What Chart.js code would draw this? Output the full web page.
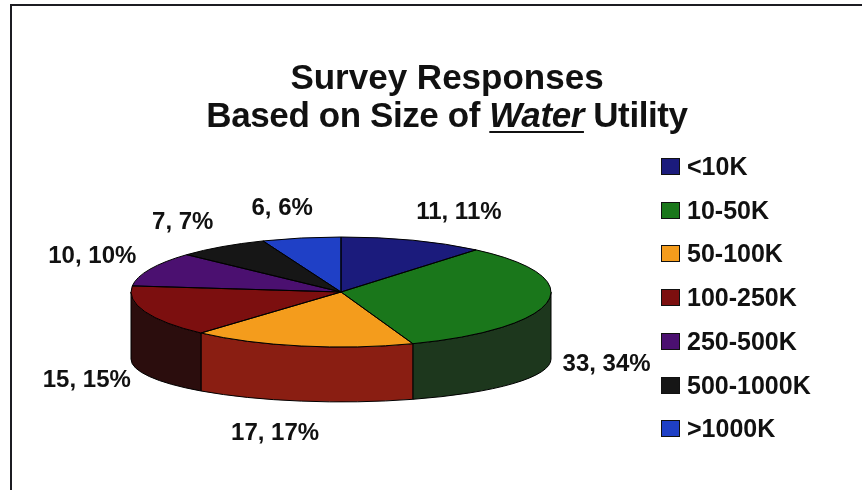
<!DOCTYPE html>
<html>
<head>
<meta charset="utf-8">
<script src="https://cdn.jsdelivr.net/npm/chart.js@4.4.0/dist/chart.umd.min.js"></script>
<style>
  html, body { margin: 0; padding: 0; background: #fff; overflow: hidden; }
  #wrap { position: relative; width: 862px; height: 490px; }
  #frame { position: absolute; left: 10px; top: 4px; right: -10px; bottom: -10px;
           border-left: 2px solid #1c1c22; border-top: 2px solid #1c1c22; }
  #chart { position: absolute; left: 0; top: 0; }
  #title { position: absolute; left: 147px; top: 58px; width: 600px; text-align: center;
           font: bold 35px "Liberation Sans", Arial, sans-serif; line-height: 38px;
           color: #111; white-space: nowrap; }
  #title .l2 { letter-spacing: -0.4px; }
  #title u { text-decoration-thickness: 2px; text-underline-offset: 4px; }
  #legend { position: absolute; left: 661px; top: 144.6px;
            font: bold 25px "Liberation Sans", Arial, sans-serif; color: #111; }
  .item { display: flex; align-items: center; height: 43.75px; white-space: nowrap; }
  .box { width: 19px; height: 17px; box-sizing: border-box; border: 1px solid #111; margin-right: 7px; }
</style>
</head>
<body>
<div id="wrap">
  <canvas id="chart" width="862" height="490"></canvas>
  <div id="frame"></div>
  <div id="title"><div>Survey Responses</div><div class="l2">Based on Size of <u><i>Water</i></u> Utility</div></div>
  <div id="legend"></div>
</div>
<script>
// 数据
const categories = ['<10K', '10-50K', '50-100K', '100-250K', '250-500K', '500-1000K', '>1000K'];
const responses = [11, 33, 17, 15, 10, 7, 6];
const percents = [11, 34, 17, 15, 10, 7, 6];

// 颜色：顶面 / 侧面
const topColors = ['#1b1b7c', '#1a771b', '#f49c1c', '#7c0f0f', '#4b1070', '#161616', '#1f40c6'];
const sideColors = ['#10104a', '#1d371d', '#8a1e12', '#2b0d0d', '#2a0a40', '#0a0a0a', '#12267a'];

// 3D 饼图参数
const DEPTH = 67;           // 侧面厚度
const BOTTOM_SQUASH = 0.78; // 底面椭圆相对顶面的扁率
const LABEL_GAP_X = 15;
const LABEL_GAP_Y = 30;
const FRONT_DROP = 58;

// 图例
const legendEl = document.getElementById('legend');
categories.forEach((c, i) => {
  const row = document.createElement('div');
  row.className = 'item';
  const box = document.createElement('span');
  box.className = 'box';
  box.style.background = topColors[i];
  row.appendChild(box);
  row.appendChild(document.createTextNode(c));
  legendEl.appendChild(row);
});

function ellipseOf(chart) {
  const arcs = chart.getDatasetMeta(0).data;
  const area = chart.chartArea;
  const sx = area.width / area.height;
  const r = arcs[0].outerRadius;
  return { arcs, sx, cx: arcs[0].x, cy: arcs[0].y, rx: r * sx, ry: r };
}

const pie3d = {
  id: 'pie3d',
  beforeDatasetsDraw(chart) {
    const ctx = chart.ctx;
    const { arcs, sx, cx, cy, rx, ry } = ellipseOf(chart);
    // 侧面（只画前半部分）
    arcs.forEach((arc, i) => {
      const s = Math.max(arc.startAngle, 0);
      const e = Math.min(arc.endAngle, Math.PI);
      if (s >= e) return;
      ctx.beginPath();
      ctx.ellipse(cx, cy, rx, ry, 0, s, e);
      ctx.ellipse(cx, cy + DEPTH, rx, ry * BOTTOM_SQUASH, 0, e, s, true);
      ctx.closePath();
      ctx.fillStyle = sideColors[i];
      ctx.fill();
      ctx.lineWidth = 1;
      ctx.strokeStyle = '#000';
      ctx.stroke();
    });
    // 顶面：把圆拉成椭圆
    ctx.save();
    ctx.translate(cx, 0);
    ctx.scale(sx, 1);
    ctx.translate(-cx, 0);
  },
  afterDatasetsDraw(chart) {
    const ctx = chart.ctx;
    ctx.restore();
    const { arcs, cx, cy, rx, ry } = ellipseOf(chart);
    arcs.forEach(arc => {
      ctx.beginPath();
      ctx.moveTo(cx, cy);
      ctx.ellipse(cx, cy, rx, ry, 0, arc.startAngle, arc.endAngle);
      ctx.closePath();
      ctx.lineWidth = 1;
      ctx.strokeStyle = '#000';
      ctx.stroke();
    });
    // 数据标签
    ctx.save();
    ctx.font = 'bold 24px "Liberation Sans", Arial, sans-serif';
    ctx.fillStyle = '#111';
    ctx.textAlign = 'center';
    ctx.textBaseline = 'middle';
    arcs.forEach((arc, i) => {
      const text = responses[i] + ', ' + percents[i] + '%';
      const w = ctx.measureText(text).width;
      const t = (arc.startAngle + arc.endAngle) / 2;
      const c = Math.cos(t), s = Math.sin(t);
      const push = Math.min(1, Math.abs(c) * 2.8);
      const x = cx + c * (rx + LABEL_GAP_X) + Math.sign(c) * push * w / 2;
      const y = cy + s * (ry + LABEL_GAP_Y) + (s > 0 ? FRONT_DROP : 0);
      ctx.fillText(text, x, y);
    });
    ctx.restore();
  }
};

new Chart(document.getElementById('chart'), {
  type: 'pie',
  data: {
    labels: categories,
    datasets: [{
      data: responses,
      backgroundColor: topColors,
      borderWidth: 0,
      clip: false
    }]
  },
  options: {
    responsive: false,
    animation: false,
    devicePixelRatio: 1,
    layout: { padding: { left: 131, right: 311, top: 237, bottom: 143 } },
    plugins: {
      legend: { display: false },
      tooltip: { enabled: false },
      title: { display: false }
    }
  },
  plugins: [pie3d]
});
</script>
</body>
</html>
